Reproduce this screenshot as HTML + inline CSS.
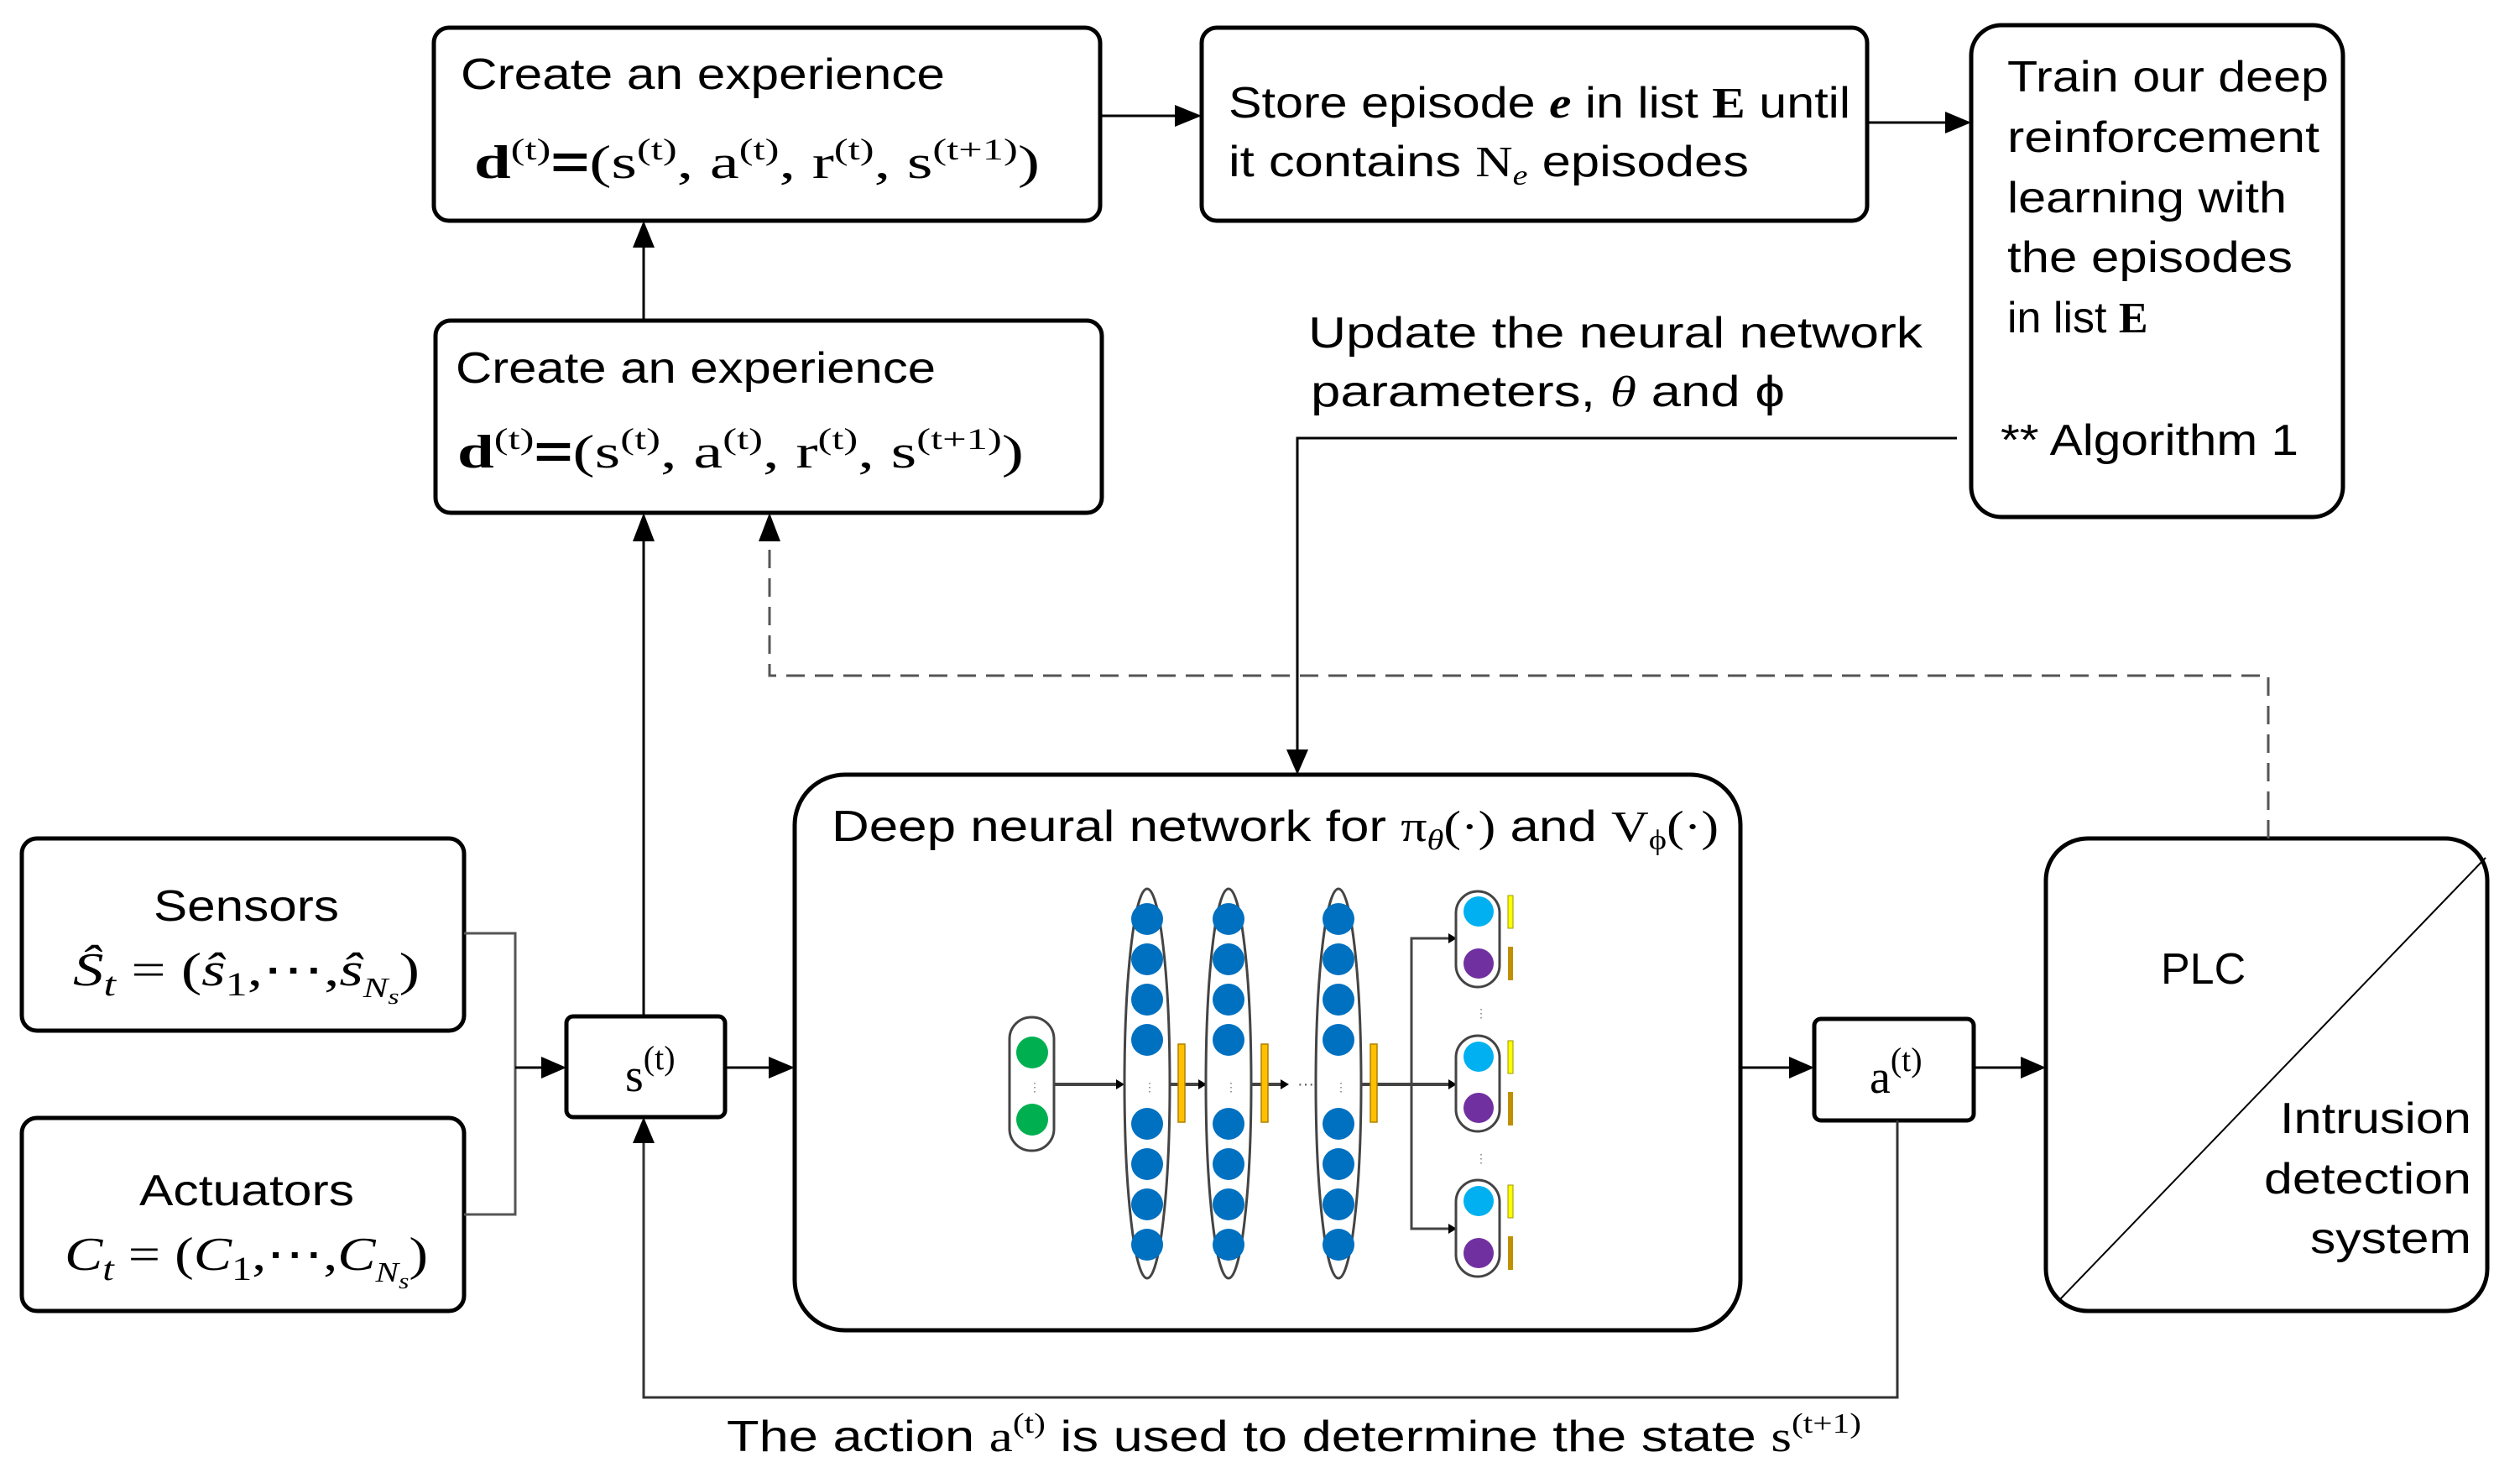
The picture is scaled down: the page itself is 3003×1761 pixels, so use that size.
<!DOCTYPE html>
<html><head><meta charset="utf-8"><style>
html,body{margin:0;padding:0;background:#fff;}
svg{display:block;}
.s{font-family:"Liberation Sans",sans-serif;font-size:52px;fill:#000;}
.m{font-family:"Liberation Serif",serif;font-size:56px;fill:#000;font-weight:normal;}
</style></head><body>
<svg width="3003" height="1761" viewBox="0 0 3003 1761" xmlns="http://www.w3.org/2000/svg">
<g fill="none" stroke="#000" stroke-width="5">
<rect x="517" y="33" width="794" height="230" rx="18"/>
<rect x="519" y="382" width="794" height="229" rx="18"/>
<rect x="1432" y="33" width="793" height="230" rx="18"/>
<rect x="2349" y="30" width="443" height="586" rx="36"/>
<rect x="26" y="999" width="527" height="229" rx="18"/>
<rect x="26" y="1332" width="527" height="230" rx="18"/>
<rect x="675" y="1211" width="189" height="120" rx="8"/>
<rect x="947" y="923" width="1127" height="662" rx="60"/>
<rect x="2162" y="1214" width="190" height="121" rx="8"/>
<rect x="2438" y="999" width="526" height="563" rx="50"/>
</g>
<g fill="none" stroke="#000" stroke-width="3">
<line x1="767" y1="382" x2="767" y2="295"/>
<line x1="1311" y1="138" x2="1400" y2="138"/>
<line x1="2225" y1="146" x2="2318" y2="146"/>
<polyline points="2332,522 1546,522 1546,895"/>
<polyline points="553,1112 614,1112 614,1447 553,1447" stroke="#555"/>
<line x1="614" y1="1272" x2="645" y2="1272"/>
<line x1="864" y1="1272" x2="916" y2="1272"/>
<line x1="767" y1="1211" x2="767" y2="645"/>
<polyline points="2261,1335 2261,1665 767,1665 767,1362" stroke="#333"/>
<line x1="2074" y1="1272" x2="2132" y2="1272"/>
<line x1="2352" y1="1272" x2="2408" y2="1272"/>
<line x1="2455" y1="1548" x2="2962" y2="1022" stroke-width="2"/>
</g>
<polyline points="2703,999 2703,805 917,805 917,645" fill="none" stroke="#555" stroke-width="3" stroke-dasharray="22,12"/>
<g fill="#000">
<polygon points="767,263 754,295 780,295"/>
<polygon points="1432,138 1400,125 1400,151"/>
<polygon points="2349,146 2318,133 2318,159"/>
<polygon points="1546,923 1533,893 1559,893"/>
<polygon points="675,1272 645,1259 645,1285"/>
<polygon points="947,1272 916,1259 916,1285"/>
<polygon points="767,611 754,645 780,645"/>
<polygon points="917,611 904,645 930,645"/>
<polygon points="767,1331 754,1362 780,1362"/>
<polygon points="2162,1272 2132,1259 2132,1285"/>
<polygon points="2438,1272 2408,1259 2408,1285"/>
</g>
<g>
<g stroke="#444" stroke-width="4" fill="none">
<line x1="1256" y1="1292" x2="1335" y2="1292"/>
<line x1="1393" y1="1292" x2="1436" y2="1292"/>
<line x1="1491" y1="1292" x2="1530" y2="1292"/>
<line x1="1622" y1="1292" x2="1730" y2="1292"/>
<polyline points="1730,1118 1682,1118 1682,1464 1730,1464" stroke-width="3"/>
</g>
<g fill="#000"><polygon points="1340,1292 1330,1286 1330,1298"/><polygon points="1438,1292 1428,1286 1428,1298"/><polygon points="1536,1292 1526,1286 1526,1298"/>
<polygon points="1736,1118 1726,1112 1726,1124"/><polygon points="1736,1292 1726,1286 1726,1298"/><polygon points="1736,1464 1726,1458 1726,1470"/></g>
<text x="1546" y="1298" font-family="Liberation Sans" font-size="20" fill="#555">···</text>
<g fill="none" stroke="#444" stroke-width="3">
<rect x="1203" y="1212" width="53" height="159" rx="26"/>
<ellipse cx="1367" cy="1291" rx="27" ry="232"/>
<ellipse cx="1464" cy="1291" rx="27" ry="232"/>
<ellipse cx="1595" cy="1291" rx="27" ry="232"/>
<rect x="1735" y="1062" width="52" height="114" rx="26"/>
<rect x="1735" y="1234" width="52" height="114" rx="26"/>
<rect x="1735" y="1406" width="52" height="115" rx="26"/>
</g>
<g fill="#00b050"><circle cx="1230" cy="1254" r="19"/><circle cx="1230" cy="1334" r="19"/></g>
<g fill="#0070c0">
<circle cx="1367" cy="1095" r="19"/><circle cx="1367" cy="1143" r="19"/><circle cx="1367" cy="1191" r="19"/><circle cx="1367" cy="1239" r="19"/>
<circle cx="1367" cy="1339" r="19"/><circle cx="1367" cy="1387" r="19"/><circle cx="1367" cy="1435" r="19"/><circle cx="1367" cy="1483" r="19"/>
<circle cx="1464" cy="1095" r="19"/><circle cx="1464" cy="1143" r="19"/><circle cx="1464" cy="1191" r="19"/><circle cx="1464" cy="1239" r="19"/>
<circle cx="1464" cy="1339" r="19"/><circle cx="1464" cy="1387" r="19"/><circle cx="1464" cy="1435" r="19"/><circle cx="1464" cy="1483" r="19"/>
<circle cx="1595" cy="1095" r="19"/><circle cx="1595" cy="1143" r="19"/><circle cx="1595" cy="1191" r="19"/><circle cx="1595" cy="1239" r="19"/>
<circle cx="1595" cy="1339" r="19"/><circle cx="1595" cy="1387" r="19"/><circle cx="1595" cy="1435" r="19"/><circle cx="1595" cy="1483" r="19"/>
</g>
<g fill="#00b0f0"><circle cx="1762" cy="1086" r="18"/><circle cx="1762" cy="1259" r="18"/><circle cx="1762" cy="1431" r="18"/></g>
<g fill="#7030a0"><circle cx="1762" cy="1148" r="18"/><circle cx="1762" cy="1320" r="18"/><circle cx="1762" cy="1493" r="18"/></g>
<g fill="#ffc000" stroke="#b08000" stroke-width="1.5">
<rect x="1404" y="1244" width="8" height="93"/><rect x="1503" y="1244" width="8" height="93"/><rect x="1633" y="1244" width="8" height="93"/>
</g>
<g fill="#ffff00" stroke="#999900" stroke-width="1"><rect x="1797" y="1067" width="6" height="39"/><rect x="1797" y="1240" width="6" height="39"/><rect x="1797" y="1412" width="6" height="39"/></g>
<g fill="#c09000"><rect x="1797" y="1128" width="6" height="40"/><rect x="1797" y="1301" width="6" height="40"/><rect x="1797" y="1473" width="6" height="40"/></g>
<g fill="#777" font-family="Liberation Sans" font-size="14">
<text x="1226" y="1300">⋮</text><text x="1363" y="1300">⋮</text><text x="1460" y="1300">⋮</text><text x="1591" y="1300">⋮</text><text x="1758" y="1212">⋮</text><text x="1758" y="1385">⋮</text>
</g>
</g>
<text class="s" x="549" y="106" textLength="577" lengthAdjust="spacingAndGlyphs">Create an experience</text>
<text class="m" x="565" y="212" textLength="674" lengthAdjust="spacingAndGlyphs"><tspan font-weight="bold">d</tspan><tspan font-size="36" dy="-22">(t)</tspan><tspan dy="22" font-family="Liberation Sans" font-weight="bold">=</tspan><tspan>(s</tspan><tspan font-size="36" dy="-22">(t)</tspan><tspan dy="22">, a</tspan><tspan font-size="36" dy="-22">(t)</tspan><tspan dy="22">, r</tspan><tspan font-size="36" dy="-22">(t)</tspan><tspan dy="22">, s</tspan><tspan font-size="36" dy="-22">(t+1)</tspan><tspan dy="22">)</tspan></text>
<text class="s" x="543" y="456" textLength="572" lengthAdjust="spacingAndGlyphs">Create an experience</text>
<text class="m" x="545" y="557" textLength="675" lengthAdjust="spacingAndGlyphs"><tspan font-weight="bold">d</tspan><tspan font-size="36" dy="-22">(t)</tspan><tspan dy="22" font-family="Liberation Sans" font-weight="bold">=</tspan><tspan>(s</tspan><tspan font-size="36" dy="-22">(t)</tspan><tspan dy="22">, a</tspan><tspan font-size="36" dy="-22">(t)</tspan><tspan dy="22">, r</tspan><tspan font-size="36" dy="-22">(t)</tspan><tspan dy="22">, s</tspan><tspan font-size="36" dy="-22">(t+1)</tspan><tspan dy="22">)</tspan></text>
<text class="s" x="1464" y="140" textLength="741" lengthAdjust="spacingAndGlyphs">Store episode <tspan font-family="Liberation Serif" font-style="italic" font-weight="bold">e</tspan> in list <tspan font-family="Liberation Serif" font-weight="bold">E</tspan> until</text>
<text class="s" x="1464" y="210" textLength="620" lengthAdjust="spacingAndGlyphs">it contains <tspan font-family="Liberation Serif">N</tspan><tspan font-family="Liberation Serif" font-style="italic" font-size="34" dy="10">e</tspan><tspan dy="-10"> episodes</tspan></text>
<text class="s" x="2392" y="109" textLength="383" lengthAdjust="spacingAndGlyphs">Train our deep</text>
<text class="s" x="2392" y="181" textLength="372" lengthAdjust="spacingAndGlyphs">reinforcement</text>
<text class="s" x="2392" y="253" textLength="333" lengthAdjust="spacingAndGlyphs">learning with</text>
<text class="s" x="2392" y="324" textLength="340" lengthAdjust="spacingAndGlyphs">the episodes</text>
<text class="s" x="2392" y="396">in list <tspan font-family="Liberation Serif" font-weight="bold">E</tspan></text>
<text class="s" x="2384" y="542" textLength="355" lengthAdjust="spacingAndGlyphs">** Algorithm 1</text>
<text class="s" x="1559" y="414" textLength="732" lengthAdjust="spacingAndGlyphs">Update the neural network</text>
<text class="s" x="1562" y="484" textLength="565" lengthAdjust="spacingAndGlyphs">parameters, <tspan font-family="Liberation Serif" font-style="italic">θ</tspan> and ϕ</text>
<text class="s" x="183" y="1097" textLength="221" lengthAdjust="spacingAndGlyphs">Sensors</text>
<text class="m" x="87" y="1174" font-size="60" textLength="413" lengthAdjust="spacingAndGlyphs" font-style="italic"><tspan>Ŝ</tspan><tspan font-size="40" dy="12">t</tspan><tspan dy="-12" font-style="normal"> = (</tspan><tspan>ŝ</tspan><tspan font-size="40" dy="12" font-style="normal">1</tspan><tspan dy="-12" font-style="normal">,⋯,</tspan><tspan>ŝ</tspan><tspan font-size="34" dy="14">N</tspan><tspan font-size="26" dy="8">s</tspan><tspan dy="-22" font-style="normal">)</tspan></text>
<text class="s" x="166" y="1436" textLength="256" lengthAdjust="spacingAndGlyphs">Actuators</text>
<text class="m" x="77" y="1513" font-size="60" textLength="433" lengthAdjust="spacingAndGlyphs" font-style="italic"><tspan>C</tspan><tspan font-size="40" dy="12">t</tspan><tspan dy="-12" font-style="normal"> = (</tspan><tspan>C</tspan><tspan font-size="40" dy="12" font-style="normal">1</tspan><tspan dy="-12" font-style="normal">,⋯,</tspan><tspan>C</tspan><tspan font-size="34" dy="14">N</tspan><tspan font-size="26" dy="8">s</tspan><tspan dy="-22" font-style="normal">)</tspan></text>
<text class="m" x="745" y="1300" font-size="64">s<tspan font-size="40" dy="-26">(t)</tspan></text>
<text class="m" x="2228" y="1302" font-size="64">a<tspan font-size="40" dy="-26">(t)</tspan></text>
<text class="s" x="991" y="1002" textLength="1057" lengthAdjust="spacingAndGlyphs">Deep neural network for <tspan font-family="Liberation Serif">π</tspan><tspan font-family="Liberation Serif" font-style="italic" font-size="34" dy="10">θ</tspan><tspan dy="-10" font-family="Liberation Serif">(·)</tspan> and <tspan font-family="Liberation Serif">V</tspan><tspan font-family="Liberation Serif" font-size="34" dy="10">ϕ</tspan><tspan dy="-10" font-family="Liberation Serif">(·)</tspan></text>
<text class="s" x="2575" y="1172" font-size="56">PLC</text>
<text class="s" x="2945" y="1350" text-anchor="end" textLength="228" lengthAdjust="spacingAndGlyphs">Intrusion</text>
<text class="s" x="2945" y="1422" text-anchor="end" textLength="247" lengthAdjust="spacingAndGlyphs">detection</text>
<text class="s" x="2945" y="1493" text-anchor="end" textLength="192" lengthAdjust="spacingAndGlyphs">system</text>
<text class="s" x="866" y="1729" textLength="1352" lengthAdjust="spacingAndGlyphs">The action <tspan font-family="Liberation Serif">a</tspan><tspan font-family="Liberation Serif" font-size="34" dy="-22">(t)</tspan><tspan dy="22"> is used to determine the state </tspan><tspan font-family="Liberation Serif">s</tspan><tspan font-family="Liberation Serif" font-size="34" dy="-22">(t+1)</tspan></text>
</svg>
</body></html>
